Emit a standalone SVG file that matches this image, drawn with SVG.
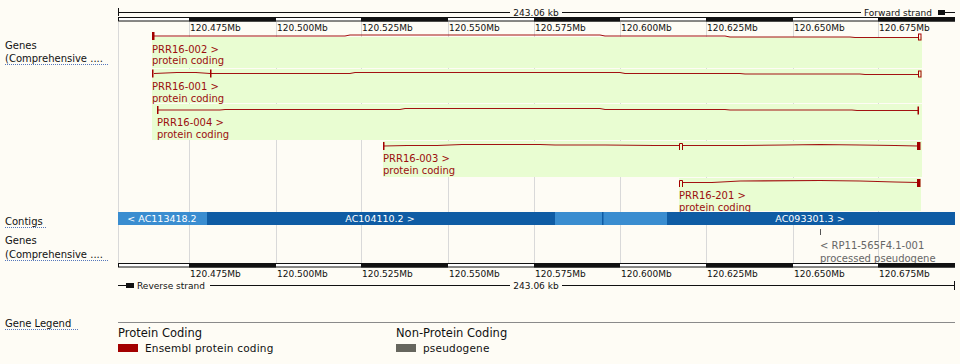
<svg xmlns="http://www.w3.org/2000/svg" width="960" height="364" viewBox="0 0 960 364">
<style>
text{font-family:"DejaVu Sans","Liberation Sans",sans-serif}
.tick{font-size:9px;fill:#111}
.lbl{font-size:10px;fill:#111}
.tl{font-size:10px;fill:#9b0f0f}
.pl{font-size:10px;fill:#666}
.ct{font-size:9.5px;fill:#fff}
.grid{stroke:#d9d9d9;stroke-width:1}
.intron{fill:none;stroke:#a31212;stroke-width:1.2}
.exon{fill:#a30000}
.utr{fill:none;stroke:#a30000;stroke-width:1}
.hl{fill:#e9fdd2}
.dot{stroke:#5577bb;stroke-width:1;stroke-dasharray:1,1}
.axis{stroke:#111;stroke-width:1}
</style>
<rect width="960" height="364" fill="#fefcf5"/>

<g id="gridlines">
<line class="grid" x1="118.5" y1="22" x2="118.5" y2="263" stroke="#bdbdbd"/>
<line class="grid" x1="189.5" y1="22" x2="189.5" y2="263"/>
<line class="grid" x1="276.5" y1="22" x2="276.5" y2="263"/>
<line class="grid" x1="361.5" y1="22" x2="361.5" y2="263"/>
<line class="grid" x1="448.5" y1="22" x2="448.5" y2="263"/>
<line class="grid" x1="534.5" y1="22" x2="534.5" y2="263"/>
<line class="grid" x1="620.5" y1="22" x2="620.5" y2="263"/>
<line class="grid" x1="706.5" y1="22" x2="706.5" y2="263"/>
<line class="grid" x1="793.5" y1="22" x2="793.5" y2="263"/>
<line class="grid" x1="878.5" y1="22" x2="878.5" y2="263"/>
</g>

<g id="top-ruler">
<line class="axis" x1="118.5" y1="8" x2="118.5" y2="16"/>
<line class="axis" x1="118" y1="12.5" x2="510" y2="12.5"/>
<line class="axis" x1="562" y1="12.5" x2="861" y2="12.5"/>
<text class="tick" x="536" y="15.5" text-anchor="middle">243.06 kb</text>
<text class="tick" x="864" y="15.5">Forward strand</text>
<rect x="938" y="10" width="7" height="5" fill="#111"/>
<line class="axis" x1="945" y1="12.5" x2="955" y2="12.5"/>
<rect x="118.5" y="17.5" width="836" height="3.5" fill="#fff" stroke="#111" stroke-width="1"/>
<rect x="189" y="17" width="87" height="4.5" fill="#111"/>
<rect x="361" y="17" width="87" height="4.5" fill="#111"/>
<rect x="534" y="17" width="86" height="4.5" fill="#111"/>
<rect x="706" y="17" width="87" height="4.5" fill="#111"/>
<rect x="878" y="17" width="77" height="4.5" fill="#111"/>
<text class="tick" x="190" y="31">120.475Mb</text>
<text class="tick" x="277" y="31">120.500Mb</text>
<text class="tick" x="362" y="31">120.525Mb</text>
<text class="tick" x="449" y="31">120.550Mb</text>
<text class="tick" x="535" y="31">120.575Mb</text>
<text class="tick" x="621" y="31">120.600Mb</text>
<text class="tick" x="707" y="31">120.625Mb</text>
<text class="tick" x="794" y="31">120.650Mb</text>
<text class="tick" x="879" y="31">120.675Mb</text>
</g>

<g id="track-labels">
<text class="lbl" x="5" y="49">Genes</text>
<text class="lbl" x="5" y="62">(Comprehensive ....</text>
<line class="dot" x1="5" y1="64.5" x2="108" y2="64.5"/>
<text class="lbl" x="5" y="225">Contigs</text>
<line class="dot" x1="5" y1="227.5" x2="46" y2="227.5"/>
<text class="lbl" x="5" y="244">Genes</text>
<text class="lbl" x="5" y="258">(Comprehensive ....</text>
<line class="dot" x1="5" y1="260.5" x2="108" y2="260.5"/>
<text class="lbl" x="5" y="327">Gene Legend</text>
<line class="dot" x1="5" y1="329.5" x2="79" y2="329.5"/>
</g>

<g id="highlights">
<rect class="hl" x="152" y="37" width="770" height="31"/>
<rect class="hl" x="152" y="69" width="770" height="34"/>
<rect class="hl" x="152" y="104" width="770" height="36"/>
<rect class="hl" x="383" y="141" width="539" height="36"/>
<rect class="hl" x="679" y="178" width="242" height="33"/>
</g>

<g id="PRR16-002">
<polyline class="intron" points="154,36 345,36 350,35 600,35 605,36 725,36 730,37 850,37 855,37.5 918,37.5"/>
<rect class="exon" x="152" y="32" width="2.5" height="8"/>
<rect class="utr" x="918.5" y="34" width="2.5" height="6"/>
<text class="tl" x="152" y="53">PRR16-002 &gt;</text>
<text class="tl" x="152" y="64">protein coding</text>
</g>

<g id="PRR16-001">
<polyline class="intron" points="154,73.5 177,72.5 196,72.5 210,73.5 350,73.5 355,72.5 620,72.5 625,73.5 740,73.5 745,74 860,74 865,74.5 918,74.5"/>
<rect class="exon" x="152" y="69.5" width="1.5" height="8"/>
<rect class="exon" x="210" y="69.5" width="1.5" height="8"/>
<rect class="utr" x="918.5" y="71" width="2.5" height="6"/>
<text class="tl" x="152" y="90">PRR16-001 &gt;</text>
<text class="tl" x="152" y="102">protein coding</text>
</g>

<g id="PRR16-004">
<polyline class="intron" points="158,110 220,110 225,109.5 400,109.5 405,108.5 600,108.5 605,109.5 725,109.5 730,110 852,110 857,110.5 918,110.5"/>
<rect class="exon" x="157" y="106" width="1.5" height="8"/>
<rect class="exon" x="917.5" y="106.5" width="1.5" height="8"/>
<text class="tl" x="157" y="126">PRR16-004 &gt;</text>
<text class="tl" x="157" y="138">protein coding</text>
</g>

<g id="PRR16-003">
<polyline class="intron" points="384,146 407,145.5 437,145.5 462,144.5 540,144.5 555,145 605,145 655,145.5 679,145.5"/>
<polyline class="intron" points="683,145.5 742,145.5 785,145 820,144.5 860,145 895,145.5 918,146"/>
<rect class="exon" x="383" y="142" width="1.5" height="8"/>
<path d="M679.5,150 V143.5 H682.5 V150" fill="none" stroke="#a30000" stroke-width="1"/>
<rect class="exon" x="917" y="142" width="3.5" height="8"/>
<text class="tl" x="383" y="162">PRR16-003 &gt;</text>
<text class="tl" x="383" y="174">protein coding</text>
</g>

<g id="PRR16-201">
<polyline class="intron" points="683,182.5 712,182.5 740,181 820,180.5 860,181 895,182 918,182.5"/>
<path d="M679.5,187 V180.5 H682.5 V187" fill="none" stroke="#a30000" stroke-width="1"/>
<rect class="exon" x="917" y="179" width="3.5" height="8"/>
<text class="tl" x="679" y="199">PRR16-201 &gt;</text>
<text class="tl" x="679" y="211">protein coding</text>
</g>

<g id="contigs">
<rect x="118" y="212" width="89" height="13" fill="#3a8dd0"/>
<rect x="207" y="212" width="348" height="13" fill="#0f5ca4"/>
<rect x="555" y="212" width="112" height="13" fill="#3a8dd0"/>
<rect x="602" y="212" width="1.5" height="13" fill="#0f5ca4"/>
<rect x="667" y="212" width="288" height="13" fill="#0f5ca4"/>
<text class="ct" x="162" y="222" text-anchor="middle">&lt; AC113418.2</text>
<text class="ct" x="380" y="222" text-anchor="middle">AC104110.2 &gt;</text>
<text class="ct" x="810" y="222" text-anchor="middle">AC093301.3 &gt;</text>
</g>

<g id="RP11-565F4.1-001">
<line x1="820.5" y1="229" x2="820.5" y2="235" stroke="#555" stroke-width="1"/>
<text class="pl" x="820" y="249">&lt; RP11-565F4.1-001</text>
<text class="pl" x="820" y="262">processed pseudogene</text>
</g>

<g id="bottom-ruler">
<rect x="118.5" y="263.5" width="836" height="3.5" fill="#fff" stroke="#111" stroke-width="1"/>
<rect x="189" y="263" width="87" height="4.5" fill="#111"/>
<rect x="361" y="263" width="87" height="4.5" fill="#111"/>
<rect x="534" y="263" width="86" height="4.5" fill="#111"/>
<rect x="706" y="263" width="87" height="4.5" fill="#111"/>
<rect x="878" y="263" width="77" height="4.5" fill="#111"/>
<text class="tick" x="190" y="277">120.475Mb</text>
<text class="tick" x="277" y="277">120.500Mb</text>
<text class="tick" x="362" y="277">120.525Mb</text>
<text class="tick" x="449" y="277">120.550Mb</text>
<text class="tick" x="535" y="277">120.575Mb</text>
<text class="tick" x="621" y="277">120.600Mb</text>
<text class="tick" x="707" y="277">120.625Mb</text>
<text class="tick" x="794" y="277">120.650Mb</text>
<text class="tick" x="879" y="277">120.675Mb</text>
<line class="axis" x1="118" y1="285.5" x2="126" y2="285.5"/>
<rect x="126" y="283" width="8" height="5" fill="#111"/>
<text class="tick" x="137" y="288.5">Reverse strand</text>
<line class="axis" x1="210" y1="285.5" x2="510" y2="285.5"/>
<text class="tick" x="536" y="288.5" text-anchor="middle">243.06 kb</text>
<line class="axis" x1="562" y1="285.5" x2="955" y2="285.5"/>
<line class="axis" x1="954.5" y1="281" x2="954.5" y2="290"/>
</g>

<g id="legend">
<line x1="118" y1="322.5" x2="955" y2="322.5" stroke="#8a8a8a" stroke-width="1"/>
<text x="118" y="337" font-size="11.5" fill="#111">Protein Coding</text>
<rect x="118" y="344" width="20" height="8" fill="#a30000"/>
<text x="145" y="352" font-size="10.5" fill="#111" letter-spacing="0.2">Ensembl protein coding</text>
<text x="396" y="337" font-size="11.5" fill="#111">Non-Protein Coding</text>
<rect x="396" y="344" width="20" height="8" fill="#66665e"/>
<text x="423" y="352" font-size="10.5" fill="#111" letter-spacing="0.2">pseudogene</text>
</g>
</svg>
